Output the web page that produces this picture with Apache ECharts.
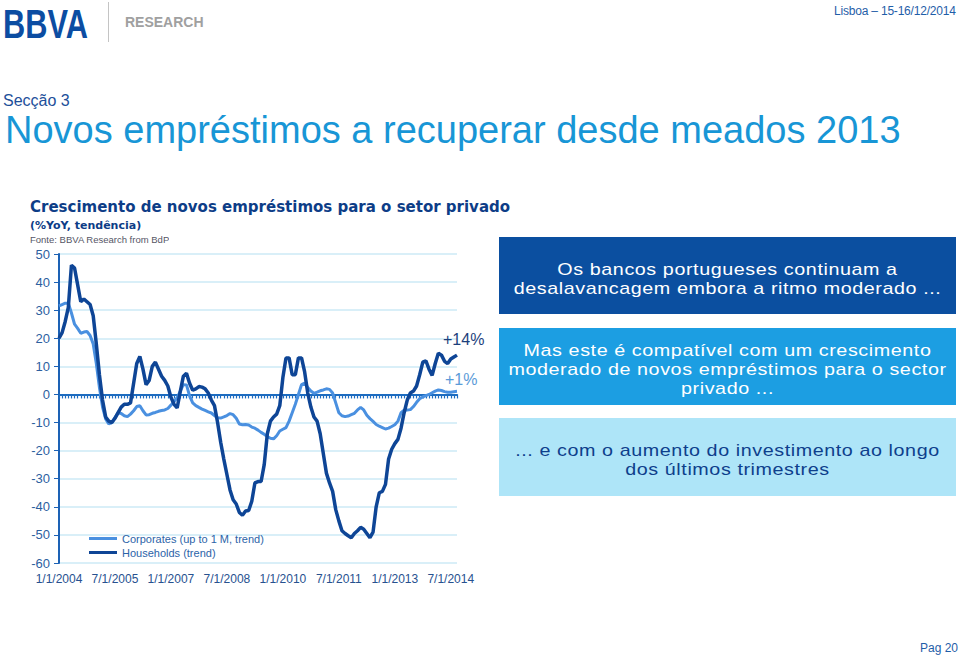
<!DOCTYPE html>
<html><head><meta charset="utf-8">
<script src="https://cdn.jsdelivr.net/npm/echarts@6/dist/echarts.min.js"></script>
<style>
html,body{margin:0;padding:0;background:#fff;}
#page{position:relative;width:959px;height:656px;overflow:hidden;font-family:"Liberation Sans",Arial,sans-serif;}
#chart{position:absolute;left:0;top:0;width:959px;height:656px;}
.t{position:absolute;white-space:nowrap;}
.box{position:absolute;left:499px;width:457px;box-sizing:border-box;}
.box div{text-align:center;font-size:17px;line-height:19px;height:19px;letter-spacing:0.5px;white-space:nowrap;transform:scaleX(1.16);transform-origin:50% 50%;}
</style></head><body>
<div id="page">
<div id="chart"></div>
<div class="t" style="left:3px;top:3.5px;font-size:41px;line-height:41px;font-weight:bold;color:#0c4da2;transform:scaleX(0.75);transform-origin:0 0;">BBVA</div>
<div style="position:absolute;left:108px;top:2px;width:1px;height:40px;background:#c4c4c4;"></div>
<div class="t" style="left:125px;top:15px;font-size:14px;line-height:14px;font-weight:bold;color:#a0a0a0;">RESEARCH</div>
<div class="t" style="left:834px;top:5px;font-size:12px;line-height:12px;color:#1f5ea8;letter-spacing:-0.2px;">Lisboa – 15-16/12/2014</div>
<div class="t" style="left:3px;top:93px;font-size:16px;line-height:16px;color:#1d4f9a;">Secção 3</div>
<div class="t" style="left:5px;top:111px;font-size:38px;line-height:38px;color:#1896d6;">Novos empréstimos a recuperar desde meados 2013</div>
<div class="t" style="left:30px;top:200px;font-family:'DejaVu Sans',Verdana,sans-serif;font-size:15px;line-height:15px;font-weight:bold;color:#0d3d87;">Crescimento de novos empréstimos para o setor privado</div>
<div class="t" style="left:30px;top:220px;font-family:'DejaVu Sans',Verdana,sans-serif;font-size:11px;line-height:11px;font-weight:bold;color:#0d3d87;">(%YoY, tendência)</div>
<div style="position:absolute;left:30px;top:234px;height:10px;overflow:hidden;"><div class="t" style="position:relative;font-size:9.5px;line-height:11px;color:#556;">Fonte: BBVA Research from BdP</div></div>
<div class="box" style="top:237px;height:77px;background:#0b4fa0;color:#fff;padding-top:22.6px;"><div>Os bancos portugueses continuam a</div><div>desalavancagem embora a ritmo moderado ...</div></div>
<div class="box" style="top:328px;height:77px;background:#1c9ee2;color:#fff;padding-top:12.6px;"><div>Mas este é compatível com um crescimento</div><div>moderado de novos empréstimos para o sector</div><div>privado ...</div></div>
<div class="box" style="top:418px;height:78px;background:#aee5f8;color:#0e3f8c;padding-top:23.3px;"><div>... e com o aumento do investimento ao longo</div><div>dos últimos trimestres</div></div>
<div class="t" style="left:920px;top:642px;font-size:12px;line-height:12px;color:#1f5ea8;">Pag 20</div>
</div>
<script>
// ---- data ----
const startYear = 2004;
const nMonths = 129; // Jan 2004 .. Sep 2014
const categories = [];
for (let k = 0; k < nMonths; k++) {
  categories.push((k % 12 + 1) + '/1/' + (startYear + Math.floor(k / 12)));
}
const tickLabels = ['1/1/2004','7/1/2005','1/1/2007','7/1/2008','1/1/2010','7/1/2011','1/1/2013','7/1/2014'];
const seriesNames = ['Corporates (up to 1 M, trend)', 'Households (trend)'];
const corporates = [
  31.5, 32, 32.5, 32.5, 29, 25, 23.5, 21.8, 22.2, 22.4, 21, 18,
  11, 2.5, -4.5, -8.7, -10.5, -10, -8.2, -6.5, -6.8, -7.6, -7.9, -7,
  -5.8, -4.3, -4, -5.8, -7.3, -7.2, -6.7, -6.4, -6, -5.7, -5.5, -5,
  -3.8, -2.5, -1.2, 1.2, 3.5, 3.4, -0.5, -3, -4, -4.6, -5.2, -5.7,
  -6.2, -6.6, -7.5, -8.3, -8.4, -8, -7.5, -6.8, -7.2, -8.5, -10.5, -10.8,
  -10.7, -10.9, -11.6, -12, -12.7, -13.5, -14.2, -15, -15.6, -15.8, -14.7, -13,
  -12.4, -11.8, -9.5, -6.5, -3.5, 0, 3.5, 4, 2.5, 1.2, 0.4, 0.8,
  1.3, 1.6, 2, 1.8, 0.5, -3, -6.5, -7.6, -7.9, -7.7, -7.2, -6.7,
  -5.5, -4.6, -5.5, -7.4, -8.6, -9.6, -10.7, -11.3, -11.8, -12.3, -12, -11.4,
  -10.8, -9.5, -6.5, -5.6, -5.5, -5.4, -4.3, -2.8, -1.5, -0.9, -0.4, 0,
  0.6, 1.2, 1.6, 1.4, 1, 0.8, 0.8, 1, 1.1
];
const households = [
  20, 22, 26, 31, 46, 45, 39, 33, 34, 33, 32, 28,
  18, 7, -2, -8, -9.5, -10, -8.5, -6.5, -4.5, -3.5, -3.5, -3,
  4, 11, 13.5, 9, 3.5, 5, 10, 11.5, 9, 6.5, 5, 3,
  -1, -3.5, -4.8, 1, 6.5, 7.5, 4, 1.5, 2, 2.8, 2.6, 2,
  0.5, -2, -4, -10, -17, -23, -28.5, -34, -37.5, -39, -42, -43,
  -41.5, -41.3, -38, -31.5, -31, -31, -25, -14, -9.5, -8, -7, -4,
  6, 13, 13, 7, 7, 13, 13, 8, 0.5, -4.5, -8, -9.5,
  -14, -21, -28, -31.5, -34.5, -41, -45, -48.5, -49.5, -50.3, -51, -49.5,
  -48.5, -47.3, -48, -49.5, -51, -49, -40, -35, -34.5, -32, -23, -19.5,
  -17.5, -16, -12, -6.5, -2, 0.5, 1.2, 3, 7, 11.5, 12, 9,
  6.8, 11, 14.7, 14, 11.8, 11, 12.6, 13.3, 14
];
const endNotes = ['+1%', '+14%'];

// ---- chart ----
const FONT = '"Liberation Sans", Arial, sans-serif';
const chart = echarts.init(document.getElementById('chart'), null, {renderer: 'svg'});
chart.setOption({
  animation: false,
  grid: {left: 59, top: 254, width: 398, height: 309, containLabel: false},
  legend: {
    orient: 'vertical', left: 84, top: 528, itemWidth: 28, itemHeight: 3, itemGap: 3,
    icon: 'rect', data: seriesNames,
    textStyle: {fontSize: 11, color: '#2c63a8', fontFamily: FONT}
  },
  xAxis: [
    {
      type: 'category', data: categories, boundaryGap: false, position: 'bottom',
      axisLine: {show: false, onZero: false}, axisTick: {show: false},
      axisLabel: {interval: (i, v) => tickLabels.includes(v), fontSize: 12, color: '#27518f', margin: 10, fontFamily: FONT},
      splitLine: {show: false}
    },
    {
      type: 'category', data: categories, boundaryGap: false, position: 'top',
      axisLine: {show: true, onZero: true, lineStyle: {color: '#1d6cc0', width: 2}},
      axisTick: {show: true, inside: true, interval: 0, length: 4, lineStyle: {color: '#1d6cc0', width: 1.2}},
      axisLabel: {show: false}, splitLine: {show: false}
    }
  ],
  yAxis: {
    type: 'value', min: -60, max: 50, interval: 10,
    axisLine: {show: true, lineStyle: {color: '#1d62b5', width: 2}},
    axisTick: {show: true, length: 5, lineStyle: {color: '#1d62b5'}},
    axisLabel: {fontSize: 13, color: '#2d5f9f', margin: 9, fontFamily: FONT},
    splitLine: {lineStyle: {color: '#cdeaf6', width: 1.5}}
  },
  series: [
    {
      name: seriesNames[0], type: 'line', data: corporates, symbol: 'none', smooth: false,
      lineStyle: {color: '#4a90e0', width: 3}, itemStyle: {color: '#4a90e0'},
      endLabel: {show: true, formatter: endNotes[0], color: '#5b9bd8', fontSize: 16, fontFamily: FONT, offset: [-20, -12]},
      emphasis: {disabled: true}, z: 2
    },
    {
      name: seriesNames[1], type: 'line', data: households, symbol: 'none', smooth: false,
      lineStyle: {color: '#0e4596', width: 3.5}, itemStyle: {color: '#0e4596'},
      endLabel: {show: true, formatter: endNotes[1], color: '#1c3f7c', fontSize: 16, fontFamily: FONT, offset: [-22, -16]},
      emphasis: {disabled: true}, z: 3
    }
  ]
});
</script>
</body></html>
